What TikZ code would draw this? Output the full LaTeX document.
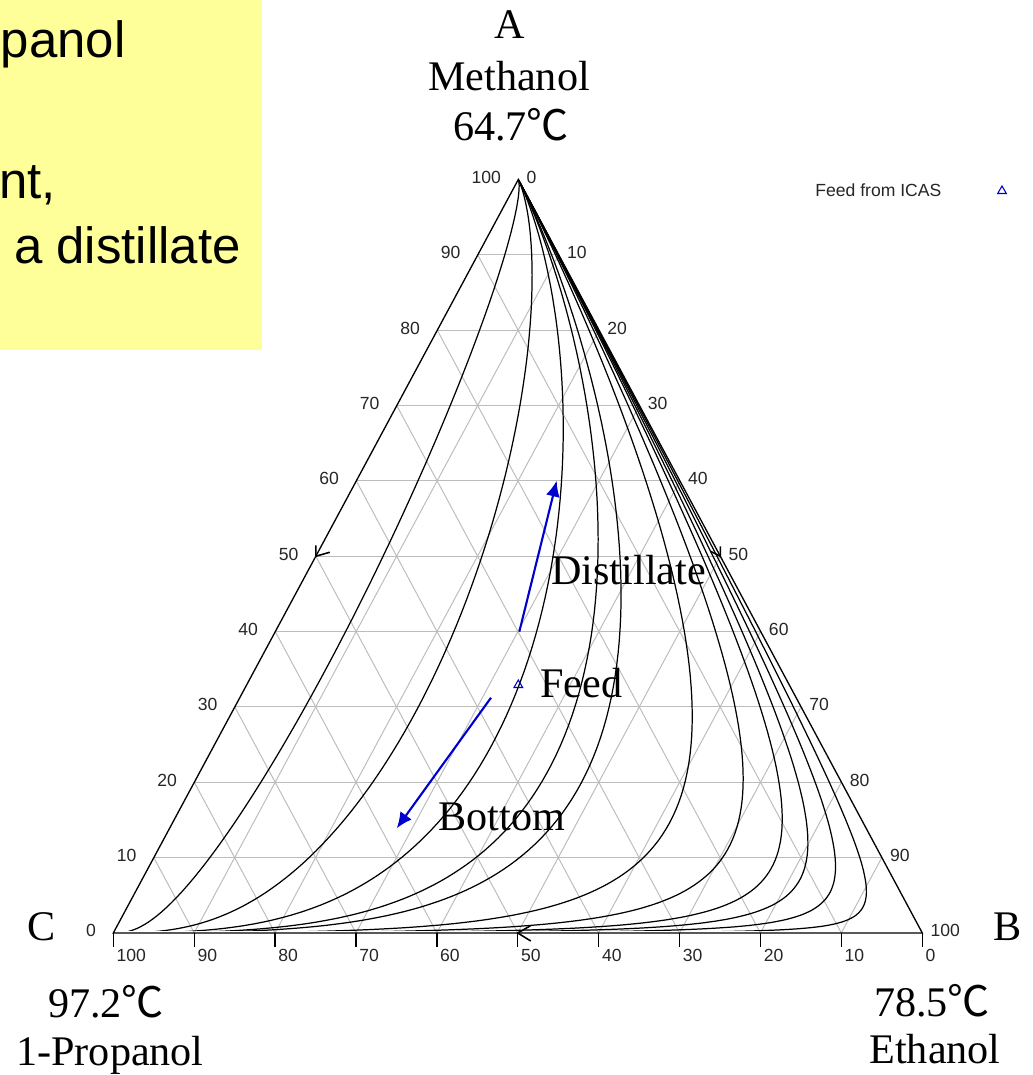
\documentclass[tikz,border=0pt]{standalone}
\usepackage{fontspec}
\setmainfont{Liberation Serif}
\setsansfont{Liberation Sans}
\newfontfamily\cjk{Noto Sans CJK SC}
\usetikzlibrary{arrows.meta,shapes.geometric}
\definecolor{noteyellow}{RGB}{255,255,153}
\definecolor{gridgray}{RGB}{188,188,188}
\definecolor{arrowblue}{RGB}{0,0,205}
\begin{document}
\begin{tikzpicture}[x=0.02cm,y=-0.02cm,
  lbl/.style={font=\fontsize{24}{28}\selectfont, inner sep=0},
  note/.style={font=\sffamily\fontsize{29}{34}\selectfont, inner sep=0},
  num/.style={font=\sffamily\fontsize{10}{12}\selectfont, inner sep=0, text=black!85},
  edge/.style={black, line width=0.75pt},
  grid/.style={gridgray, line width=0.55pt},
  rcurve/.style={black, line width=0.7pt},
  edgetip/.style={black, line width=0.9pt},
  bluearrow/.style={arrowblue, line width=1.2pt, -{Latex[length=9pt,width=8pt]}},
  feedmark/.style={regular polygon, regular polygon sides=3, draw=arrowblue, line width=0.6pt, minimum size=5.7pt, inner sep=0},
  declare function={
    rmx(\p,\k)=max(0,(\k)+0.62*(\p),\p);
    rwa(\p,\k)=exp(max(-9,-rmx(\p,\k)));
    rwb(\p,\k)=exp(max(-9,(\k)+0.62*(\p)-rmx(\p,\k)));
    rwc(\p,\k)=exp(max(-9,(\p)-rmx(\p,\k)));
    rsum(\p,\k)=rwa(\p,\k)+rwb(\p,\k)+rwc(\p,\k);
    rx(\p,\k)=(518.3*rwa(\p,\k)+922.3*rwb(\p,\k)+113.3*rwc(\p,\k))/rsum(\p,\k);
    ry(\p,\k)=933-753.5*rwa(\p,\k)/rsum(\p,\k);
  }]
\useasboundingbox (0,0) rectangle (1032,1075);
\fill[white] (0,0) rectangle (1032,1075);

% yellow note
\fill[noteyellow] (0,0) rectangle (262,350);
\node[note, anchor=base east] (n1) at (126,57) {panol};
\node[note, anchor=base east] (n2) at (56,198) {nt,};
\node[note, anchor=base east] (n3) at (241,263) {a distillate};

% vertices
\coordinate (A) at (518.3,179.5);
\coordinate (B) at (922.3,933);
\coordinate (C) at (113.3,933);

% grid
\foreach \k [evaluate=\k as \j using int(10-\k)] in {1,...,9} {
  \draw[grid] (barycentric cs:A=\k,C=\j) -- (barycentric cs:A=\k,B=\j);
  \draw[grid] (barycentric cs:B=\k,A=\j) -- (barycentric cs:B=\k,C=\j);
  \draw[grid] (barycentric cs:C=\k,A=\j) -- (barycentric cs:C=\k,B=\j);
}

% residue curves
\begin{scope}
\clip (0,0) rectangle (1032,930);
\foreach \k/\ps in {-1.681/-8.6, -0.562/-10.4, 0.014/-11.3, 0.381/-11.9, 0.579/-12.2,
                    1.130/-13.1, 1.53/-13.8, 1.874/-14.3, 2.135/-14.7, 2.47/-15.3, 2.97/-16.1}
  \draw[rcurve] plot[variable=\p, domain=\ps:9, samples=240] ({rx(\p,\k)},{ry(\p,\k)});
\end{scope}

% triangle
\draw[edge] (A) -- (B) -- (C) -- cycle;

% ticks and axis numbers
\foreach \k [evaluate=\k as \j using int(10-\k), evaluate=\k as \v using int(10*\k)] in {0,...,10} {
  \draw[edge] (barycentric cs:C=\k,B=\j) -- ++(0,13.7);
  \path (barycentric cs:A=\k,C=\j) ++(-17,-2) node[num, anchor=east] (la\k) {\v};
  \path (barycentric cs:B=\k,A=\j) ++(8,-2) node[num, anchor=west] (lb\k) {\v};
  \path (barycentric cs:C=\k,B=\j) ++(3,15.5) node[num, anchor=north west] (lc\k) {\v};
}

% direction tips on the edges
\coordinate (mAC) at (barycentric cs:A=1,C=1);
\coordinate (mAB) at (barycentric cs:A=1,B=1);
\coordinate (mBC) at (barycentric cs:B=1,C=1);
\draw[edgetip] (mAC) ++(0,-11) -- (mAC) -- ++(14,-4);
\draw[edgetip] (mAB) ++(0,-10) -- (mAB) -- ++(-10,-5);
\draw[edgetip] (mBC) ++(13,-7.5) -- (mBC) -- ++(13,8);

% vertex labels
\node[lbl, anchor=base] (lA) at (510,38) {A};
\node[lbl, anchor=base] (lAname) at (509,90) {Methanol};
\node[lbl, anchor=base] (lAt) at (511,140) {64.7{\cjk ℃}};
\node[lbl, anchor=base] (lC) at (42,940) {C};
\node[lbl, anchor=base] (lCt) at (106,1017) {97.2{\cjk ℃}};
\node[lbl, anchor=base] (lCname) at (110,1065) {1-Propanol};
\node[lbl, anchor=base] (lB) at (1008,940) {B};
\node[lbl, anchor=base] (lBt) at (932,1016) {78.5{\cjk ℃}};
\node[lbl, anchor=base] (lBname) at (935,1063) {Ethanol};

% legend
\node[num, anchor=west] (leg) at (815,190) {Feed from ICAS};
\node[feedmark] (legmark) at (1002,191) {};

% feed, arrows and their labels
\node[feedmark] (feed) at (518.3,685) {};
\node[lbl, anchor=base west] (dist) at (551,584) {Distillate};
\node[lbl, anchor=base west] (feedl) at (540,697) {Feed};
\node[lbl, anchor=base west] (bot) at (438,830) {Bottom};
\coordinate (dt) at (519.3,631.7);
\coordinate (dh) at (556.7,480.7);
\coordinate (bt) at (491,697.7);
\coordinate (bh) at (396.7,828.3);
\draw[bluearrow] (dt) -- (dh);
\draw[bluearrow] (bt) -- (bh);
\end{tikzpicture}
\end{document}
